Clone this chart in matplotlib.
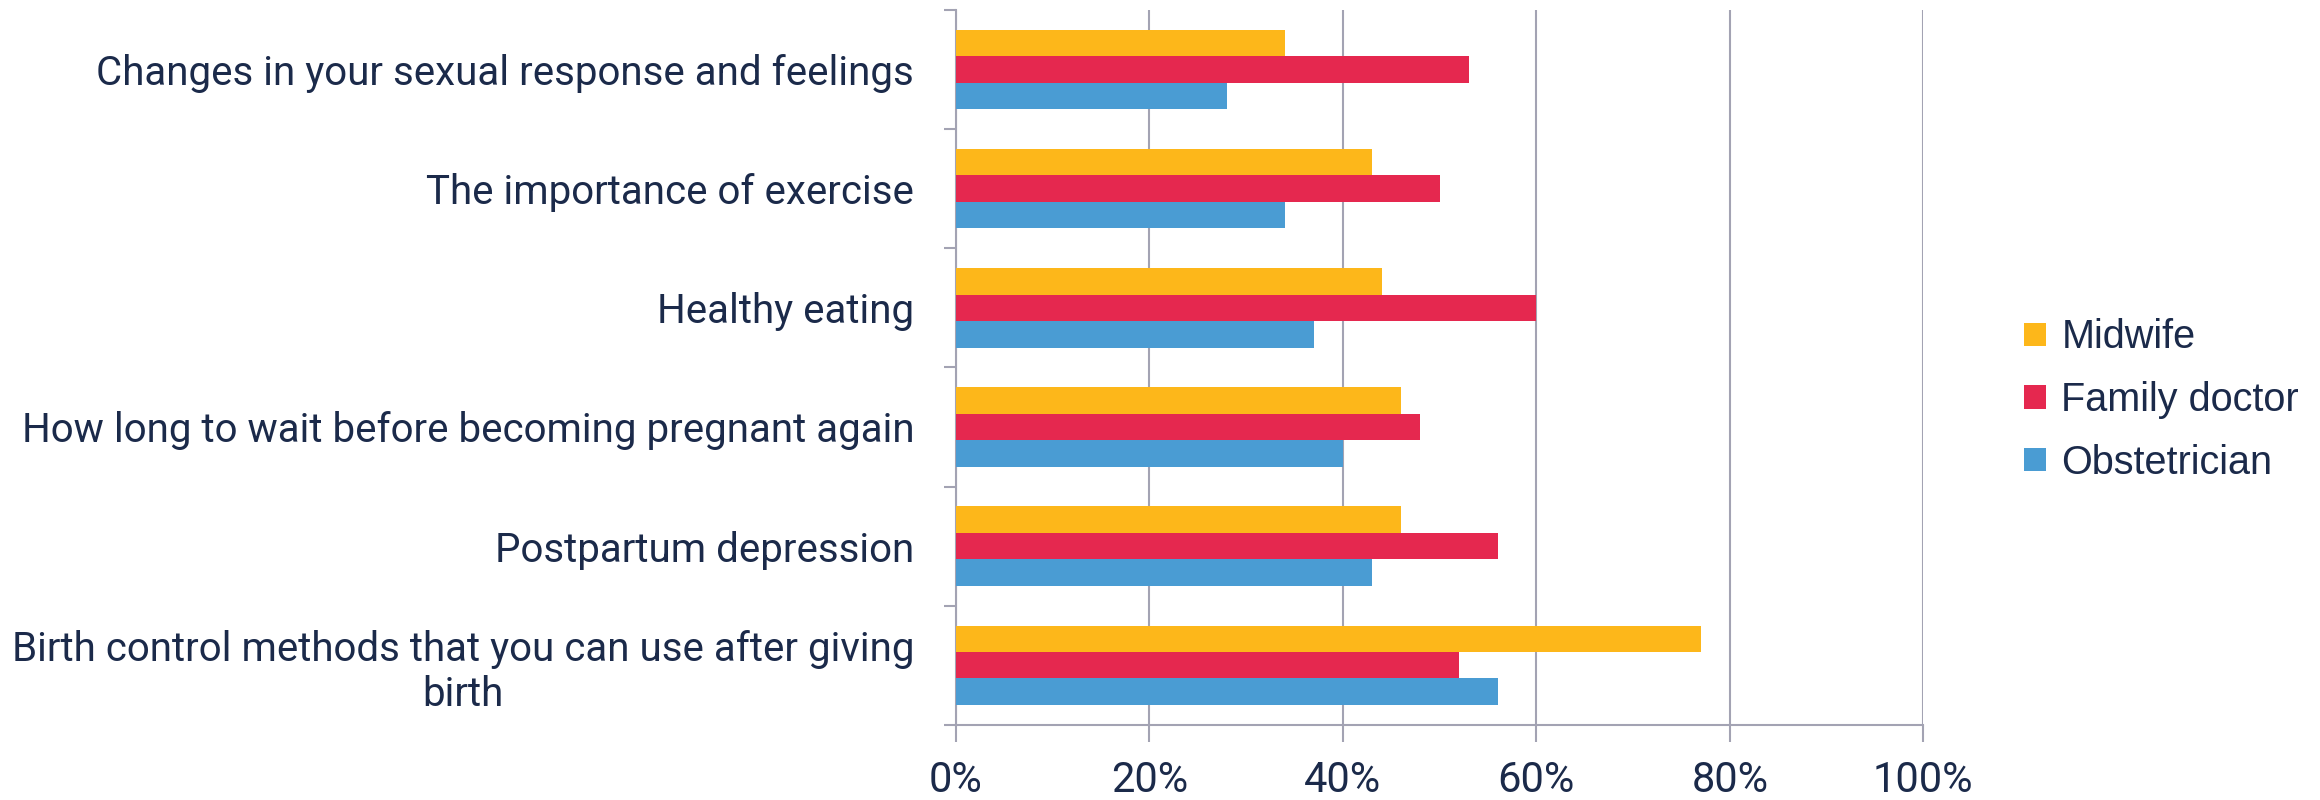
import matplotlib.pyplot as plt
import numpy as np

topics = [
    "Changes in your sexual response and feelings",
    "The importance of exercise",
    "Healthy eating",
    "How long to wait before becoming pregnant again",
    "Postpartum depression",
    "Birth control methods that you can use after giving\nbirth",
]
midwife = [34, 43, 44, 46, 46, 77]
family_doctor = [53, 50, 60, 48, 56, 52]
obstetrician = [28, 34, 37, 40, 43, 56]
x_ticks = [0, 20, 40, 60, 80, 100]

series = [
    ("Midwife", midwife, "#FDB71A"),
    ("Family doctor", family_doctor, "#E5284F"),
    ("Obstetrician", obstetrician, "#4A9CD3"),
]

text_color = "#1B2A4A"
line_color = "#A3A3B3"

plt.rcParams["font.family"] = ["Roboto", "DejaVu Sans"]

fig = plt.figure(figsize=(23.2, 8), dpi=100)
ax = fig.add_axes([0.412, 0.094, 0.417, 0.8935])

n = len(topics)
centers = np.arange(n)
bar_h = 1 / 4.5
for i, (name, vals, color) in enumerate(series):
    ax.barh(centers + (i - 1) * bar_h, vals, height=bar_h, color=color,
            label=name, zorder=3)

ax.set_ylim(n - 0.5, -0.5)
ax.set_xlim(0, 100)

# category labels at centres, tick marks on the boundaries
ax.set_yticks(centers, topics, multialignment="center")
ax.set_yticks(np.arange(n + 1) - 0.5, minor=True)
ax.tick_params(axis="y", which="major", length=0, pad=30,
               labelsize=29, labelcolor=text_color)
ax.tick_params(axis="y", which="minor", length=9, width=1.5, color=line_color)

ax.set_xticks(x_ticks, [f"{v}%" for v in x_ticks])
ax.tick_params(axis="x", length=12, width=1.5, color=line_color, pad=13,
               labelsize=30, labelcolor=text_color)

ax.grid(axis="x", color=line_color, linewidth=1.5, zorder=0)
for side in ("top", "right"):
    ax.spines[side].set_visible(False)
for side in ("left", "bottom"):
    ax.spines[side].set_color(line_color)
    ax.spines[side].set_linewidth(1.5)

leg = fig.legend(loc="center left", bbox_to_anchor=(0.857, 0.5), frameon=False,
                 prop={"family": ["Liberation Sans", "DejaVu Sans"], "size": 28.5},
                 handlelength=0.55, handleheight=0.55, handletextpad=0.4,
                 labelspacing=0.62)
for t in leg.get_texts():
    t.set_color(text_color)

fig.savefig("out.png", dpi=100)
